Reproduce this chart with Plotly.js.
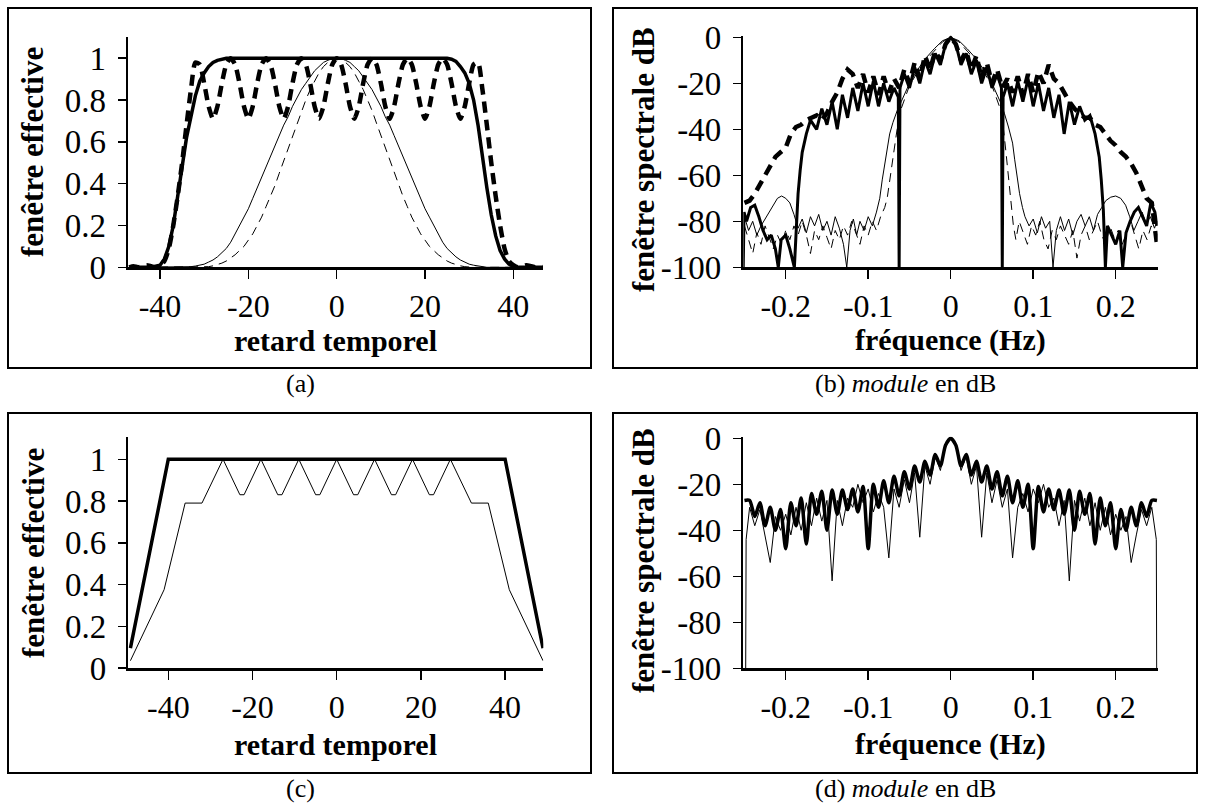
<!DOCTYPE html>
<html><head><meta charset="utf-8">
<script src="https://cdn.plot.ly/plotly-3.0.1.min.js"></script>
<style>html,body{margin:0;padding:0;background:#fff;}#chart{width:1205px;height:803px;}</style>
</head><body><div id="chart"></div>
<script>
// ---------- Panel (a): retard temporel / fenêtre effective ----------
const lagA = [-47,-46,-45,-44,-43,-42,-41,-40,-39,-38,-37,-36,-35,-34,-33,-32,-31,-30,-29,-28,-27,-26,-25,-24,-23,-22,-21,-20,-19,-18,-17,-16,-15,-14,-13,-12,-11,-10,-9,-8,-7,-6,-5,-4,-3,-2,-1,0,1,2,3,4,5,6,7,8,9,10,11,12,13,14,15,16,17,18,19,20,21,22,23,24,25,26,27,28,29,30,31,32,33,34,35,36,37,38,39,40,41,42,43,44,45,46,47];
const winA_thickSolid = [0,0,0,0,0,0,0.005,0.01,0.04,0.1,0.2,0.33,0.48,0.62,0.72,0.82,0.89,0.93,0.96,0.98,0.99,0.995,1,1,1,1,1,1,1,1,1,1,1,1,1,1,1,1,1,1,1,1,1,1,1,1,1,1,1,1,1,1,1,1,1,1,1,1,1,1,1,1,1,1,1,1,1,1,1,1,1,1,1,0.995,0.985,0.96,0.93,0.88,0.8,0.68,0.52,0.38,0.25,0.15,0.08,0.04,0.015,0.005,0,0,0,0,0,0,0];
const winA_thickDash = [0,0.005,0,0.005,0.01,0.005,0,0.01,0.03,0.09,0.2,0.34,0.5,0.68,0.85,0.98,0.97,0.88,0.77,0.71,0.77,0.88,0.97,1,0.97,0.88,0.77,0.71,0.77,0.88,0.97,1,0.97,0.88,0.77,0.71,0.77,0.88,0.97,1,0.97,0.88,0.77,0.71,0.77,0.88,0.97,1,0.97,0.88,0.77,0.71,0.77,0.88,0.97,1,0.97,0.88,0.77,0.71,0.77,0.88,0.97,1,0.97,0.88,0.77,0.71,0.77,0.88,0.97,1,0.97,0.88,0.77,0.71,0.77,0.88,0.97,0.98,0.85,0.68,0.5,0.34,0.2,0.09,0.03,0.01,0,0.005,0.01,0.005,0,0.005,0];
const winA_thinSolid = [0,0,0,0,0,0,0,0,0,0,0,0,0,0,0.003,0.006,0.01,0.015,0.025,0.035,0.05,0.07,0.09,0.12,0.16,0.2,0.24,0.28,0.33,0.38,0.43,0.48,0.53,0.58,0.63,0.68,0.72,0.77,0.81,0.85,0.88,0.91,0.94,0.96,0.98,0.99,0.998,1,0.998,0.99,0.98,0.96,0.94,0.91,0.88,0.85,0.81,0.77,0.72,0.68,0.63,0.58,0.53,0.48,0.43,0.38,0.33,0.28,0.24,0.2,0.16,0.12,0.09,0.07,0.05,0.035,0.025,0.015,0.01,0.006,0.003,0,0,0,0,0,0,0,0,0,0,0,0,0,0];
const winA_thinDash = [0,0,0,0,0,0,0,0,0,0,0,0,0,0,0,0,0,0,0.003,0.007,0.012,0.02,0.03,0.045,0.06,0.08,0.1,0.13,0.16,0.2,0.24,0.29,0.34,0.39,0.45,0.51,0.57,0.63,0.69,0.75,0.8,0.85,0.89,0.93,0.96,0.98,0.995,1,0.995,0.98,0.96,0.93,0.89,0.85,0.8,0.75,0.69,0.63,0.57,0.51,0.45,0.39,0.34,0.29,0.24,0.2,0.16,0.13,0.1,0.08,0.06,0.045,0.03,0.02,0.012,0.007,0.003,0,0,0,0,0,0,0,0,0,0,0,0,0,0,0,0,0,0];

// ---------- Panels (b) and (d): fréquence (Hz) / fenêtre spectrale dB ----------
const freqGrid = [-0.25,-0.24375,-0.2375,-0.23125,-0.225,-0.21875,-0.2125,-0.20625,-0.2,-0.19375,-0.1875,-0.18125,-0.175,-0.16875,-0.1625,-0.15625,-0.15,-0.14375,-0.1375,-0.13125,-0.125,-0.11875,-0.1125,-0.10625,-0.1,-0.09375,-0.0875,-0.08125,-0.075,-0.06875,-0.0625,-0.05625,-0.05,-0.04375,-0.0375,-0.03125,-0.025,-0.01875,-0.0125,-0.00625,0,0.00625,0.0125,0.01875,0.025,0.03125,0.0375,0.04375,0.05,0.05625,0.0625,0.06875,0.075,0.08125,0.0875,0.09375,0.1,0.10625,0.1125,0.11875,0.125,0.13125,0.1375,0.14375,0.15,0.15625,0.1625,0.16875,0.175,0.18125,0.1875,0.19375,0.2,0.20625,0.2125,0.21875,0.225,0.23125,0.2375,0.24375,0.25];
const specB_thickDash = [-72,-71,-68,-64,-60,-56,-52,-50,-48,-42,-39,-38,-36,-35,-34,-36,-33,-28,-24,-18,-14,-16,-22,-16,-24,-17,-25,-17,-24,-18,-22,-14,-20,-11,-18,-8,-14,-6,-10,-3,0,-3,-10,-6,-14,-8,-18,-11,-20,-14,-22,-18,-24,-17,-25,-16,-24,-15,-20,-12,-18,-20,-24,-28,-31,-33,-35,-35,-38,-39,-42,-45,-47,-50,-52,-55,-59,-65,-70,-72,-90];

const freqB_thickSolid = [-0.2515,-0.2505,-0.2475,-0.2425,-0.2375,-0.2325,-0.2275,-0.2225,-0.2175,-0.2125,-0.209,-0.2055,-0.2,-0.195,-0.1895,-0.187,-0.185,-0.1825,-0.18,-0.175,-0.17,-0.1625,-0.15625,-0.15,-0.14375,-0.1375,-0.13125,-0.125,-0.11875,-0.1125,-0.10625,-0.1,-0.09375,-0.0875,-0.08125,-0.075,-0.06875,-0.0635,-0.0625,-0.0615,-0.05625,-0.05,-0.04375,-0.0375,-0.03125,-0.025,-0.01875,-0.0125,-0.00625,0,0.00625,0.0125,0.01875,0.025,0.03125,0.0375,0.04375,0.05,0.05625,0.0615,0.0625,0.0635,0.06875,0.075,0.08125,0.0875,0.09375,0.1,0.10625,0.1125,0.11875,0.125,0.13125,0.1375,0.14375,0.15,0.15625,0.1625,0.16875,0.175,0.18,0.1825,0.185,0.1875,0.19,0.195,0.2,0.205,0.2085,0.2125,0.2175,0.2225,0.2275,0.2325,0.2375,0.2425,0.2475,0.25];
const specB_thickSolid = [-100,-76,-80,-74,-73,-78,-84,-88,-86,-92,-100,-88,-86,-92,-100,-78,-68,-58,-50,-42,-36,-40,-31,-38,-28,-40,-25,-35,-22,-32,-20,-30,-19,-30,-20,-28,-22,-26,-100,-22,-16,-22,-13,-20,-10,-16,-7,-12,-3,0,-3,-12,-7,-16,-10,-20,-13,-22,-16,-22,-100,-26,-20,-30,-19,-28,-18,-30,-20,-32,-22,-35,-25,-42,-28,-38,-30,-36,-34,-42,-52,-62,-75,-100,-82,-86,-90,-84,-100,-85,-80,-76,-74,-78,-82,-72,-76,-82];

const freqB_thinSolid = [-0.25,-0.245,-0.24,-0.235,-0.23,-0.225,-0.22,-0.215,-0.21,-0.205,-0.2,-0.195,-0.19,-0.185,-0.18,-0.175,-0.17,-0.165,-0.16,-0.155,-0.15,-0.145,-0.14,-0.135,-0.13,-0.126,-0.122,-0.118,-0.114,-0.11,-0.105,-0.1,-0.095,-0.09,-0.086,-0.083,-0.08,-0.077,-0.074,-0.07,-0.065,-0.06,-0.05,-0.04,-0.03,-0.02,-0.01,0,0.01,0.02,0.03,0.04,0.05,0.06,0.065,0.07,0.075,0.0775,0.08,0.0835,0.087,0.09,0.095,0.1,0.105,0.11,0.115,0.12,0.124,0.128,0.133,0.138,0.143,0.148,0.153,0.158,0.163,0.168,0.173,0.178,0.183,0.188,0.194,0.2,0.206,0.212,0.217,0.222,0.227,0.232,0.237,0.242,0.247,0.25];
const specB_thinSolid = [-78,-84,-80,-86,-82,-79,-76,-73,-70,-69,-70,-72,-77,-83,-79,-85,-78,-82,-77,-84,-80,-86,-78,-83,-90,-100,-84,-79,-86,-80,-84,-78,-82,-76,-70,-62,-55,-48,-42,-37,-32,-28,-20,-14,-9,-5,-1.5,0,-1.5,-5,-9,-14,-20,-28,-33,-39,-46,-53,-60,-68,-74,-78,-82,-79,-85,-78,-83,-80,-100,-84,-78,-84,-79,-86,-80,-77,-82,-78,-84,-77,-74,-71,-69.5,-69,-70,-73,-78,-84,-80,-76,-81,-78,-83,-80];

const freqB_thinDash = [-0.25,-0.245,-0.24,-0.235,-0.23,-0.225,-0.22,-0.215,-0.21,-0.205,-0.2,-0.195,-0.19,-0.185,-0.18,-0.175,-0.17,-0.165,-0.16,-0.155,-0.15,-0.145,-0.14,-0.135,-0.13,-0.125,-0.12,-0.115,-0.11,-0.105,-0.1,-0.095,-0.09,-0.085,-0.08,-0.077,-0.074,-0.071,-0.068,-0.065,-0.06,-0.05,-0.04,-0.03,-0.02,-0.01,0,0.01,0.02,0.03,0.04,0.05,0.06,0.064,0.067,0.07,0.073,0.076,0.079,0.083,0.088,0.093,0.098,0.103,0.108,0.113,0.118,0.123,0.128,0.133,0.138,0.143,0.148,0.153,0.158,0.163,0.168,0.173,0.178,0.183,0.188,0.193,0.198,0.203,0.208,0.213,0.218,0.223,0.228,0.233,0.238,0.243,0.248];
const specB_thinDash = [-82,-88,-94,-85,-90,-82,-87,-92,-86,-90,-84,-88,-82,-86,-80,-86,-94,-84,-88,-82,-87,-92,-84,-88,-82,-86,-80,-85,-90,-82,-86,-80,-84,-78,-74,-70,-62,-55,-47,-40,-31,-21,-15,-10,-6,-2,0,-2,-6,-10,-15,-21,-31,-40,-50,-60,-70,-82,-88,-80,-85,-90,-82,-86,-80,-88,-92,-84,-88,-82,-86,-90,-84,-96,-86,-82,-88,-84,-80,-86,-90,-82,-87,-84,-90,-85,-80,-86,-92,-84,-88,-82,-86];

const specD_thick = [-27,-27,-34,-28,-38,-30,-40,-31,-48,-28,-38,-26,-46,-24,-33,-23,-40,-22.5,-33,-22.5,-31,-22,-32,-21,-48,-20,-30,-18.5,-28,-16.5,-25,-14.5,-22,-12,-19,-10,-16,-7,-12,-3,0,-3,-12,-7,-16,-10,-19,-12,-22,-14.5,-25,-16.5,-28,-18.5,-30,-20,-48,-21,-32,-22,-31,-22.5,-33,-22.5,-40,-23,-33,-24,-46,-26,-38,-28,-48,-31,-40,-30,-38,-28,-34,-27,-27];
const freqD_thin = [-0.2485,-0.248,-0.24375,-0.2375,-0.23125,-0.225,-0.21875,-0.2125,-0.20625,-0.2,-0.19375,-0.1875,-0.18125,-0.175,-0.16875,-0.1625,-0.15625,-0.15,-0.14375,-0.1375,-0.13125,-0.125,-0.11875,-0.1125,-0.10625,-0.1,-0.09375,-0.0875,-0.08125,-0.075,-0.06875,-0.0625,-0.05625,-0.05,-0.04375,-0.0375,-0.03125,-0.025,-0.01875,-0.0125,-0.00625,0,0.00625,0.0125,0.01875,0.025,0.03125,0.0375,0.04375,0.05,0.05625,0.0625,0.06875,0.075,0.08125,0.0875,0.09375,0.1,0.10625,0.1125,0.11875,0.125,0.13125,0.1375,0.14375,0.15,0.15625,0.1625,0.16875,0.175,0.18125,0.1875,0.19375,0.2,0.20625,0.2125,0.21875,0.225,0.23125,0.2375,0.24375,0.2492,0.2497];
const specD_thin = [-100,-44,-30,-38,-31,-42,-54,-34,-40,-33,-42,-30,-40,-28,-38,-26,-36,-27,-62,-27,-38,-26,-30,-20,-28,-22,-32,-24,-30,-52,-22,-30,-18,-28,-15,-43,-12,-20,-8,-14,-3,0,-3,-14,-8,-20,-12,-43,-15,-28,-18,-30,-22,-52,-30,-24,-32,-22,-28,-20,-30,-26,-38,-27,-62,-27,-36,-26,-38,-28,-40,-30,-42,-33,-40,-34,-54,-42,-31,-38,-30,-44,-100];

// ---------- Panel (c): retard temporel / fenêtre effective ----------
const lagC_thick = [-49,-40,40,49];
const winC_thick = [0.095,1,1,0.095];
const lagC_thin = [-49,-41,-36,-32,-27,-23,-22,-18,-14,-13,-9,-5,-4,0,4,5,9,13,14,18,22,23,27,32,36,41,49];
const winC_thin = [0.035,0.375,0.79,0.79,1,0.83,0.83,1,0.83,0.83,1,0.83,0.83,1,0.83,0.83,1,0.83,0.83,1,0.83,0.83,1,0.79,0.79,0.375,0.035];

// ---------- Text ----------
const ticksLag = [-40,-20,0,20,40];
const ticksLagText = ['-40','-20','0','20','40'];
const ticksWin = [0,0.2,0.4,0.6,0.8,1];
const ticksWinText = ['0','0.2','0.4','0.6','0.8','1'];
const ticksFreq = [-0.2,-0.1,0,0.1,0.2];
const ticksFreqText = ['-0.2','-0.1','0','0.1','0.2'];
const ticksDb = [-100,-80,-60,-40,-20,0];
const ticksDbText = ['-100','-80','-60','-40','-20','0'];
const captions = ['(a)','(b) <i>module</i> en dB','(c)','(d) <i>module</i> en dB'];
const xTitles = ['retard temporel','fréquence (Hz)','retard temporel','fréquence (Hz)'];
const yTitles = ['fenêtre effective','fenêtre spectrale dB','fenêtre effective','fenêtre spectrale dB'];

// ---------- layout helpers (pixel geometry -> paper fractions) ----------
const W = 1205, H = 803;
const FONT = 'Liberation Serif, Times New Roman, serif';
const dx = (a, b) => [a / W, b / W];
const dy = (top, bottom) => [1 - bottom / H, 1 - top / H];

function xAxis(domain, range, vals, text, anchor) {
  return {domain, range, anchor, tickmode: 'array', tickvals: vals, ticktext: text,
    showline: true, linewidth: 2.5, linecolor: '#000', ticks: 'outside', ticklen: 9, tickwidth: 1.5, tickcolor: '#000',
    showgrid: false, zeroline: false, fixedrange: true, automargin: false,
    tickfont: {family: FONT, size: 32, color: '#000'}};
}
function yAxis(domain, range, vals, text, anchor) {
  return {domain, range, anchor, tickmode: 'array', tickvals: vals, ticktext: text,
    showline: true, linewidth: 2.5, linecolor: '#000', ticks: 'outside', ticklen: 8, tickwidth: 1.5, tickcolor: '#000',
    showgrid: false, zeroline: false, fixedrange: true, automargin: false, ticklabelstandoff: 5,
    tickfont: {family: FONT, size: 33, color: '#000'}};
}

const BLACK = '#000';
const traces = [
  {x: lagA, y: winA_thinSolid, xaxis: 'x', yaxis: 'y', mode: 'lines', line: {color: BLACK, width: 1}},
  {x: lagA, y: winA_thinDash, xaxis: 'x', yaxis: 'y', mode: 'lines', line: {color: BLACK, width: 1, dash: '9px,6px'}},
  {x: lagA, y: winA_thickSolid, xaxis: 'x', yaxis: 'y', mode: 'lines', line: {color: BLACK, width: 3.5}},
  {x: lagA, y: winA_thickDash, xaxis: 'x', yaxis: 'y', mode: 'lines', line: {color: BLACK, width: 4.5, dash: '11px,7px', shape: 'spline', smoothing: 0.6}},

  {x: freqB_thinSolid, y: specB_thinSolid, xaxis: 'x2', yaxis: 'y2', mode: 'lines', line: {color: BLACK, width: 1}},
  {x: freqB_thinDash, y: specB_thinDash, xaxis: 'x2', yaxis: 'y2', mode: 'lines', line: {color: BLACK, width: 1, dash: '9px,6px'}},
  {x: freqB_thickSolid, y: specB_thickSolid, xaxis: 'x2', yaxis: 'y2', mode: 'lines', line: {color: BLACK, width: 3}},
  {x: freqGrid, y: specB_thickDash, xaxis: 'x2', yaxis: 'y2', mode: 'lines', line: {color: BLACK, width: 4.5, dash: '11px,7px'}},

  {x: lagC_thin, y: winC_thin, xaxis: 'x3', yaxis: 'y3', mode: 'lines', line: {color: BLACK, width: 1}},
  {x: lagC_thick, y: winC_thick, xaxis: 'x3', yaxis: 'y3', mode: 'lines', line: {color: BLACK, width: 3.5}},

  {x: freqD_thin, y: specD_thin, xaxis: 'x4', yaxis: 'y4', mode: 'lines', line: {color: BLACK, width: 1}},
  {x: freqGrid, y: specD_thick, xaxis: 'x4', yaxis: 'y4', mode: 'lines', line: {color: BLACK, width: 3.5, shape: 'spline', smoothing: 0.7}}
];

const frames = [[8, 8, 591, 368], [613, 8, 1197, 368], [8, 413, 591, 773], [613, 413, 1197, 773]];
const capPos = [[300, 383], [905, 383], [300, 788], [905, 788]];
const xTitlePos = [[335.5, 340], [950.5, 340], [335.5, 744], [950.5, 744]];
const yTitlePos = [[33, 152], [643, 160], [33, 553], [643, 561]];

const ann = [];
captions.forEach((c, i) => ann.push({text: c, xref: 'paper', yref: 'paper',
  x: capPos[i][0] / W, y: 1 - capPos[i][1] / H, xanchor: 'center', yanchor: 'middle', showarrow: false,
  font: {family: FONT, size: 26, color: '#000'}}));
xTitles.forEach((t, i) => ann.push({text: '<b>' + t + '</b>', xref: 'paper', yref: 'paper',
  x: xTitlePos[i][0] / W, y: 1 - xTitlePos[i][1] / H, xanchor: 'center', yanchor: 'middle', showarrow: false,
  borderpad: 0, font: {family: FONT, size: 30, color: '#000'}}));
yTitles.forEach((t, i) => ann.push({text: '<b>' + t + '</b>', xref: 'paper', yref: 'paper', textangle: -90,
  x: yTitlePos[i][0] / W, y: 1 - yTitlePos[i][1] / H, xanchor: 'center', yanchor: 'middle', showarrow: false,
  borderpad: 0, font: {family: FONT, size: 31, color: '#000'}}));

const layout = {
  width: W, height: H, margin: {l: 0, r: 0, t: 0, b: 0}, showlegend: false,
  paper_bgcolor: '#fff', plot_bgcolor: 'rgba(0,0,0,0)',
  xaxis: xAxis(dx(128, 543), [-47.25, 46.71], ticksLag, ticksLagText, 'y'),
  yaxis: yAxis(dy(36.7, 267.3), [0, 1.103], ticksWin, ticksWinText, 'x'),
  xaxis2: xAxis(dx(743.3, 1157.7), [-0.2514, 0.2509], ticksFreq, ticksFreqText, 'y2'),
  yaxis2: yAxis(dy(35.7, 267.3), [-100, 0.7], ticksDb, ticksDbText, 'x2'),
  xaxis3: xAxis(dx(128.3, 543.3), [-49.5, 49.07], ticksLag, ticksLagText, 'y3'),
  yaxis3: yAxis(dy(436.7, 668), [0, 1.108], ticksWin, ticksWinText, 'x3'),
  xaxis4: xAxis(dx(743.3, 1157.7), [-0.2514, 0.2509], ticksFreq, ticksFreqText, 'y4'),
  yaxis4: yAxis(dy(436.7, 668.3), [-100, 0.7], ticksDb, ticksDbText, 'x4'),
  shapes: frames.map(f => ({type: 'rect', xref: 'paper', yref: 'paper',
    x0: f[0] / W, x1: f[2] / W, y0: 1 - f[3] / H, y1: 1 - f[1] / H, line: {color: '#000', width: 2}})),
  annotations: ann
};

Plotly.newPlot('chart', traces, layout, {staticPlot: true, displayModeBar: false});
</script>
</body></html>
